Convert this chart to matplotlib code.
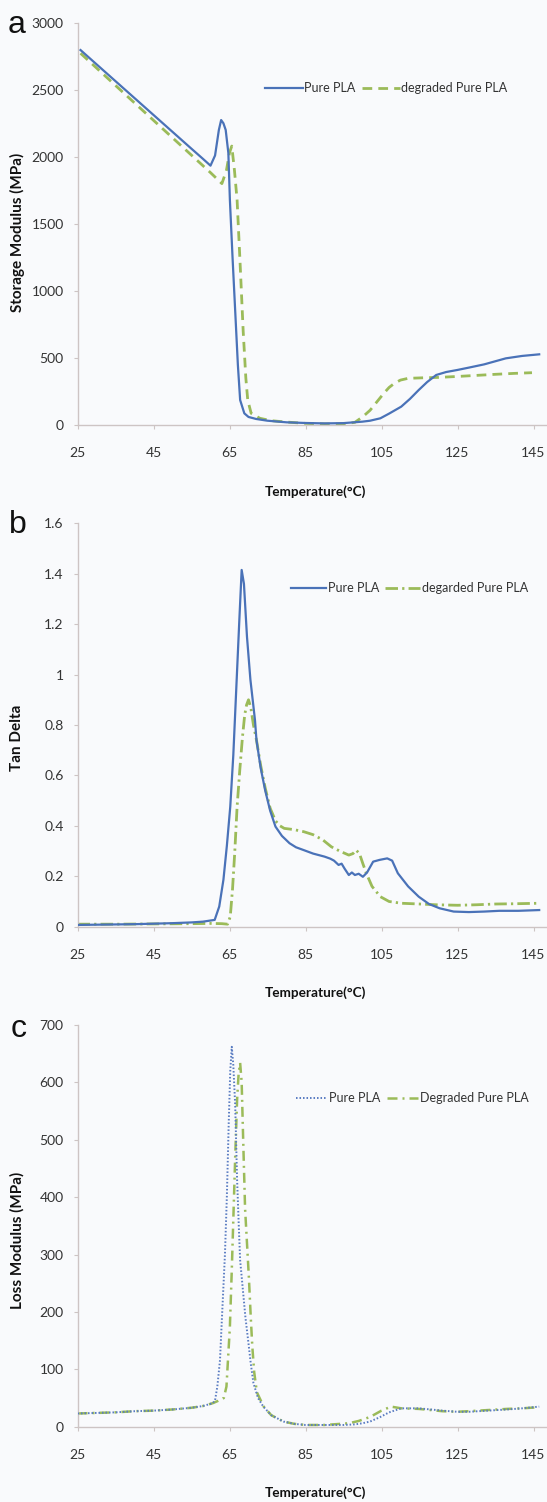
import matplotlib
matplotlib.use("Agg")
import matplotlib.pyplot as plt

# ---------------- data ----------------
# Panel a: storage modulus (MPa)
T_a_pure = [25.8, 30, 35, 40, 45, 50, 55, 58, 60.0, 61.2, 62.2, 62.8, 63.4, 64.0, 64.7, 65.1, 65.8,
            66.5, 67.2, 67.8, 68.9, 70, 72, 75, 80, 85, 90, 95, 100, 102, 104.7, 107, 110.2, 112.5,
            114.8, 117, 119.4, 122, 124.9, 128, 132, 137.7, 142, 146.5]
E_a_pure = [2796, 2690, 2564, 2438, 2312, 2186, 2060, 1985, 1934, 2010, 2200, 2274, 2250, 2200, 2028,
            1680, 1250, 850, 450, 186, 87, 60, 45, 32, 20, 15, 12, 14, 25, 32, 50, 85, 137, 195,
            261, 320, 373, 395, 410, 428, 452, 497, 515, 527]
T_a_deg = [25.8, 35, 45, 55, 60, 63.0, 64.2, 65.0, 65.6, 66.3, 67.0, 67.8, 68.6, 69.3, 69.8, 70.7,
           73, 76, 80, 85, 90, 95, 98, 100.1, 102, 104, 105.6, 107, 108.4, 110, 112, 116, 120, 125,
           130, 135, 140, 144.6]
E_a_deg = [2772, 2532, 2272, 2012, 1882, 1800, 1900, 2030, 2080, 1900, 1677, 1200, 700, 350, 186, 87,
           50, 32, 22, 12, 8, 8, 20, 62, 110, 180, 236, 280, 311, 335, 348, 352, 355, 362, 370, 378,
           385, 390]

# Panel b: tan delta
T_b_pure = [25, 30, 35, 40, 45, 50, 55, 58, 61.1, 62.3, 63.4, 64.3, 65.2, 66.0, 66.8, 67.6, 68.2, 68.8,
            69.6, 70.5, 71.7, 72.1, 73.2, 74.4, 75.7, 77.1, 78.8, 80.8, 82.5, 84.5, 87, 90.0, 91.5,
            92.5, 93.7, 94.5, 95.3, 96.4, 97.2, 98.0, 99.0, 100.1, 101.2, 102.8, 104.5, 106.5, 107.8,
            109.3, 112, 114.8, 117.5, 120.3, 124.0, 128, 132, 136, 141, 146.5]
D_b_pure = [0.007, 0.008, 0.009, 0.010, 0.012, 0.014, 0.017, 0.020, 0.027, 0.08, 0.186, 0.32, 0.476,
            0.68, 0.95, 1.22, 1.415, 1.36, 1.15, 0.98, 0.82, 0.74, 0.63, 0.54, 0.46, 0.397, 0.36,
            0.331, 0.315, 0.304, 0.29, 0.278, 0.27, 0.262, 0.245, 0.25, 0.23, 0.205, 0.215, 0.205,
            0.21, 0.198, 0.215, 0.258, 0.265, 0.271, 0.262, 0.212, 0.16, 0.119, 0.09, 0.073, 0.06,
            0.058, 0.06, 0.063, 0.063, 0.066]
T_b_deg = [25, 35, 45, 55, 60, 63, 64.5, 65.2, 65.8, 66.4, 67.0, 67.7, 68.4, 69.0, 69.5, 70.0, 70.6,
           71.3, 72.1, 73.2, 74.4, 75.7, 77.1, 78.3, 79.4, 82, 84.5, 87, 89.5, 91.8, 94, 96.4, 97.5,
           98.3, 99.2, 100.1, 101.0, 102.5, 104.7, 107, 110.2, 115, 119.4, 125, 130, 135, 140, 146.5]
D_b_deg = [0.010, 0.010, 0.011, 0.012, 0.013, 0.012, 0.01, 0.04, 0.15, 0.30, 0.476, 0.62, 0.75, 0.84,
           0.88, 0.90, 0.87, 0.80, 0.74, 0.64, 0.55, 0.47, 0.42, 0.40, 0.39, 0.385, 0.377, 0.365,
           0.345, 0.317, 0.30, 0.284, 0.29, 0.304, 0.29, 0.25, 0.212, 0.16, 0.119, 0.10, 0.093,
           0.09, 0.087, 0.085, 0.087, 0.09, 0.091, 0.093]

# Panel c: loss modulus (MPa)
T_c_pure = [25, 30, 35, 40, 45, 50, 55, 58, 60.6, 61.2, 61.8, 62.5, 62.9, 63.4, 63.8, 64.3, 64.8, 65.2,
            65.6, 66.0, 66.5, 67.0, 67.5, 67.8, 68.5, 69.2, 70.0, 70.6, 71.3, 72.5, 73.9, 76, 79.2,
            82, 85, 90, 95, 98, 100, 102, 104.7, 107, 110.2, 114.8, 118, 121, 124.9, 128, 133, 138,
            142, 146.5]
L_c_pure = [23, 24, 25, 27, 28, 30, 33, 36, 41, 46, 70, 116, 174, 244, 300, 400, 530, 620, 662, 630,
            560, 430, 340, 290, 240, 190, 145, 110, 76, 50, 35, 20, 9, 5, 3, 3, 3, 4, 6, 9, 17, 25,
            32, 32, 30, 28, 26, 26, 28, 30, 32, 35]
T_c_deg = [25, 30, 35, 40, 45, 50, 55, 58, 60.6, 62, 63.5, 64.2, 65.1, 65.6, 66.0, 66.5, 67.0, 67.4,
           67.8, 68.2, 68.6, 69.1, 69.6, 70.1, 70.6, 71.0, 71.5, 72.2, 74, 76, 79.2, 82, 85, 90,
           96.4, 99, 102, 105, 107.5, 110.2, 114.8, 118, 121, 124.9, 128, 133, 138, 142, 146.5]
L_c_deg = [23, 24, 25, 27, 28, 30, 33, 36, 41, 45, 50, 70, 174, 273, 360, 470, 570, 615, 634, 600,
           500, 380, 320, 260, 190, 140, 95, 60, 35, 20, 9, 5, 3, 3, 6, 10, 17, 28, 35, 32, 31, 29,
           27, 26, 27, 29, 31, 32, 34]

x_ticks = [25, 45, 65, 85, 105, 125, 145]
ticks_a = [0, 500, 1000, 1500, 2000, 2500, 3000]
ticks_b = [0, 0.2, 0.4, 0.6, 0.8, 1.0, 1.2, 1.4, 1.6]
labels_b = ["0", "0.2", "0.4", "0.6", "0.8", "1", "1.2", "1.4", "1.6"]
ticks_c = [0, 100, 200, 300, 400, 500, 600, 700]

# ---------------- style ----------------
BG = "#f9fafc"
BLUE = "#4a72b8"
GREEN = "#9bbb59"
SPINE = "#cdc4c4"
FONT = ["Lato", "DejaVu Sans"]

W, H = 547, 1502
fig = plt.figure(figsize=(W / 100, H / 100), dpi=100, facecolor=BG)


def fx(px):
    return px / W


def fy(py):
    return 1 - py / H


def make_ax(y_top, y_bot, ymax):
    left = 77.5
    width = 125 * 3.80
    ax = fig.add_axes([fx(left), fy(y_bot), width / W, (y_bot - y_top) / H])
    ax.set_facecolor(BG)
    ax.set_xlim(25, 150)
    ax.set_ylim(0, ymax)
    for s in ["top", "right"]:
        ax.spines[s].set_visible(False)
    for s in ["left", "bottom"]:
        ax.spines[s].set_color(SPINE)
        ax.spines[s].set_linewidth(1.0)
    ax.set_xticks(x_ticks)
    ax.tick_params(axis="x", length=3, width=0.8, color=SPINE, pad=13, labelsize=10,
                   labelcolor="#333333")
    ax.tick_params(axis="y", length=3, width=0.8, color=SPINE, pad=7, labelsize=10,
                   labelcolor="#333333")
    return ax


def finish_labels(ax):
    for lab in ax.get_xticklabels() + ax.get_yticklabels():
        lab.set_family(FONT)


# Panel a
ax1 = make_ax(22.7, 425, 3000)
ax1.set_yticks(ticks_a)
ax1.plot(T_a_pure, E_a_pure, color=BLUE, lw=1.6, label="Pure PLA", zorder=3)
ax1.plot(T_a_deg, E_a_deg, color=GREEN, lw=2.0, dashes=(3.5, 2.2), label="degraded Pure PLA",
         zorder=2)
finish_labels(ax1)

# Panel b
ax2 = make_ax(523.3, 926.7, 1.6)
ax2.set_yticks(ticks_b)
ax2.set_yticklabels(labels_b)
ax2.plot(T_b_pure, D_b_pure, color=BLUE, lw=1.6, label="Pure PLA", zorder=3)
ax2.plot(T_b_deg, D_b_deg, color=GREEN, lw=2.0, dashes=(4.5, 1.5, 0.8, 1.5),
         label="degarded Pure PLA", zorder=2)
finish_labels(ax2)

# Panel c
ax3 = make_ax(1025, 1426.7, 700)
ax3.set_yticks(ticks_c)
ax3.plot(T_c_pure, L_c_pure, color="#5a7cc2", lw=1.4, dashes=(0.8, 1.0), label="Pure PLA", zorder=3)
ax3.plot(T_c_deg, L_c_deg, color=GREEN, lw=1.8, dashes=(4.0, 2.0, 0.8, 2.0),
         label="Degraded Pure PLA", zorder=2)
finish_labels(ax3)

# Legends
for ax, (lx, ly, hl) in zip([ax1, ax2, ax3], [(265, 88, 3.0), (291, 588, 2.8), (296, 1098, 2.5)]):
    leg = ax.legend(loc="center left", bbox_to_anchor=(fx(lx), fy(ly)),
                    bbox_transform=fig.transFigure, frameon=False, ncol=2, handlelength=hl,
                    handletextpad=0.15, columnspacing=0.5, borderpad=0, borderaxespad=0,
                    prop={"family": FONT, "size": 9})
    for t in leg.get_texts():
        t.set_color("#333333")

# Axis titles
for (x, y, txt) in [(17, 232, "Storage Modulus (MPa)"), (17, 738, "Tan Delta"),
                    (17, 1240, "Loss Modulus (MPa)")]:
    fig.text(fx(x), fy(y), txt, rotation=90, ha="center", va="center", fontsize=11,
             fontweight="bold", family=FONT, color="#111111")
for y in [492, 993, 1493]:
    fig.text(fx(315), fy(y), "Temperature(°C)", ha="center", va="center", fontsize=9.8,
             fontweight="bold", family=FONT, color="#111111")

# Panel letters
for (x, y, t) in [(17, 25, "a"), (18, 525, "b"), (19, 1029, "c")]:
    fig.text(fx(x), fy(y), t, ha="center", va="center", fontsize=23,
             family=["Liberation Sans", "DejaVu Sans"], color="#111111")

fig.savefig("out.png", dpi=100, facecolor=BG)
